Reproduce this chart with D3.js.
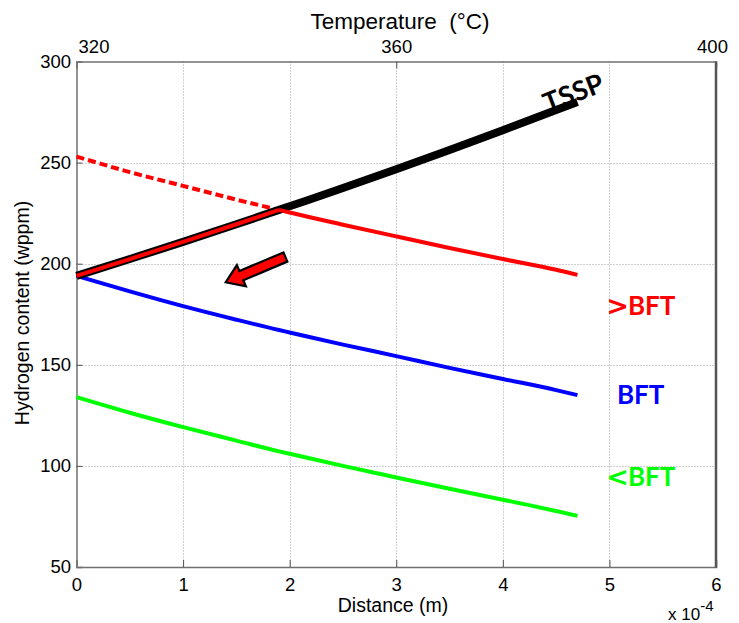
<!DOCTYPE html>
<html>
<head>
<meta charset="utf-8">
<script src="https://cdn.jsdelivr.net/npm/d3@7/dist/d3.min.js"></script>
<style>
  body { margin: 0; background: #fff; }
  svg { display: block; }
  .tick text { font-family: "Liberation Sans", Arial, sans-serif; font-size: 18.5px; fill: #000; }
</style>
</head>
<body>
<svg id="chart" width="739" height="623"></svg>
<script>
// ---- data (distance in units of 1e-4 m, hydrogen content in wppm) ----
const distance = [0, 0.5, 1, 1.5, 1.9, 2, 2.5, 3, 3.5, 4, 4.5, 4.7];
const tssp     = [194, 202.3, 210.8, 219.5, 226.6, 228.4, 237.4, 246.7, 256.2, 266, 276, 280];
const aboveBFT = [253, 245.3, 238.5, 231.7, 226.6, 225.3, 219.3, 213.5, 207.8, 202.3, 197, 194.5];
const bft      = [194, 186.3, 179, 172.3, 167.2, 166, 160, 154.3, 148.5, 143, 137.5, 135];
const belowBFT = [134, 126.3, 119.2, 112.5, 107.2, 106, 100, 94.3, 88.7, 83.3, 77.7, 75.3];
const crossing = 1.9;   // where >BFT meets TSSP

const xTicks = [0, 1, 2, 3, 4, 5, 6];
const yTicks = [50, 100, 150, 200, 250, 300];
const tTicks = [320, 360, 400];
const xGrid = [1, 2, 3, 4, 5];
const yGrid = [100, 150, 200, 250];

// arrow annotation (data coordinates): tail -> tip
const arrowTail = [1.96, 203.3];
const arrowTip  = [1.40, 190.8];

// curve labels (data coordinates)
const curveLabels = [
  { sym: ">", text: "BFT", x: 4.99, y: 174.6, color: "#ff0000", angle: 0 },
  { sym: "",  text: "BFT", x: 5.07, y: 130.5, color: "#0000ff", angle: 0 },
  { sym: "<", text: "BFT", x: 4.99, y: 90.0,  color: "#00ff00", angle: 0 },
  { sym: "",  text: "TSSP", x: 4.42, y: 274.5, color: "#000000", angle: -21 }
];

// ---- layout ----
const svg = d3.select("#chart");
const L = 76.5, R = 716, T = 61.5, B = 567;

const x = d3.scaleLinear().domain([0, 6]).range([L, R]);
const y = d3.scaleLinear().domain([50, 300]).range([B, T]);
const tx = d3.scaleLinear().domain([320, 400]).range([L, R]);

// grid
const grid = svg.append("g").attr("stroke", "#a0a0a0").attr("stroke-width", 1).attr("stroke-dasharray", "1,2");
grid.selectAll("line.v").data(xGrid).join("line").attr("class", "v")
  .attr("x1", d => Math.round(x(d)) + 0.5).attr("x2", d => Math.round(x(d)) + 0.5)
  .attr("y1", T).attr("y2", B);
grid.selectAll("line.h").data(yGrid).join("line").attr("class", "h")
  .attr("y1", d => Math.round(y(d)) + 0.5).attr("y2", d => Math.round(y(d)) + 0.5)
  .attr("x1", L).attr("x2", R);

// axes
const axB = svg.append("g").attr("transform", `translate(0,${B})`)
  .call(d3.axisBottom(x).tickValues(xTicks).tickSize(-7).tickPadding(11).tickFormat(d3.format("d")));
const axL = svg.append("g").attr("transform", `translate(${L},0)`)
  .call(d3.axisLeft(y).tickValues(yTicks).tickSize(-6).tickPadding(5.5).tickFormat(d3.format("d")));
const axT = svg.append("g").attr("transform", `translate(0,${T})`)
  .call(d3.axisTop(tx).tickValues(tTicks).tickSize(-7).tickPadding(9).tickFormat(d3.format("d")));
[axB, axL, axT].forEach(g => {
  g.select(".domain").attr("stroke", "#707070").attr("stroke-width", 1.5);
  g.selectAll(".tick line").attr("stroke", "#505050");
});
axB.selectAll(".tick").filter(d => d === 0 || d === 6).select("line").remove();
axL.selectAll(".tick").filter(d => d === 50 || d === 300).select("line").remove();
axT.selectAll(".tick").filter(d => d !== 360).select("line").remove();
axT.selectAll(".tick text").attr("dx", d => d === 320 ? 17 : (d === 400 ? -4 : 0));
// right border
svg.append("line").attr("x1", R).attr("x2", R).attr("y1", T).attr("y2", B + 0.75)
  .attr("stroke", "#555").attr("stroke-width", 2.5);

// axis titles
svg.append("text").attr("x", 400).attr("y", 29).attr("text-anchor", "middle")
  .style("font-family", "Liberation Sans, Arial, sans-serif").style("font-size", "22.5px")
  .style("white-space", "pre").text("Temperature  (°C)");
svg.append("text").attr("x", 393).attr("y", 612).attr("text-anchor", "middle")
  .style("font-family", "Liberation Sans, Arial, sans-serif").style("font-size", "19.5px")
  .text("Distance (m)");
svg.append("text").attr("transform", "translate(29,313) rotate(-90)").attr("text-anchor", "middle")
  .style("font-family", "Liberation Sans, Arial, sans-serif").style("font-size", "19.5px")
  .text("Hydrogen content (wppm)");
const exp = svg.append("text").attr("x", 668).attr("y", 620)
  .style("font-family", "Liberation Sans, Arial, sans-serif").style("font-size", "17px");
exp.append("tspan").text("x 10");
exp.append("tspan").attr("dy", -9).style("font-size", "15px").text("-4");

// lines
const pts = vals => distance.map((d, i) => [d, vals[i]]);
const line = d3.line().x(d => x(d[0])).y(d => y(d[1])).curve(d3.curveMonotoneX);
const plot = svg.append("g").attr("fill", "none");

plot.append("path").datum(pts(aboveBFT).filter(d => d[0] <= crossing))
  .attr("d", line).attr("stroke", "#ff0000").attr("stroke-width", 4).attr("stroke-dasharray", "8,4");
plot.append("path").datum(pts(bft)).attr("d", line).attr("stroke", "#0000ff").attr("stroke-width", 4);
plot.append("path").datum(pts(belowBFT)).attr("d", line).attr("stroke", "#00ff00").attr("stroke-width", 4);
plot.append("path").datum(pts(tssp)).attr("d", line).attr("stroke", "#000").attr("stroke-width", 8);
plot.append("path").datum(pts(tssp).filter(d => d[0] <= crossing))
  .attr("d", line).attr("stroke", "#ff0000").attr("stroke-width", 4);
plot.append("path").datum(pts(aboveBFT).filter(d => d[0] >= crossing))
  .attr("d", line).attr("stroke", "#ff0000").attr("stroke-width", 4);

// arrow
(function () {
  const x0 = x(arrowTail[0]), y0 = y(arrowTail[1]);
  const x1 = x(arrowTip[0]), y1 = y(arrowTip[1]);
  const dx = x1 - x0, dy = y1 - y0, len = Math.hypot(dx, dy);
  const ux = dx / len, uy = dy / len, nx = -uy, ny = ux;
  const sw = 5, hw = 11.5, hl = 17;
  const bx = x1 - ux * hl, by = y1 - uy * hl;
  const P = [
    [x0 + nx * sw, y0 + ny * sw], [bx + nx * sw, by + ny * sw], [bx + nx * hw, by + ny * hw],
    [x1, y1], [bx - nx * hw, by - ny * hw], [bx - nx * sw, by - ny * sw], [x0 - nx * sw, y0 - ny * sw]
  ];
  svg.append("path").attr("d", "M" + P.map(p => p.join(",")).join("L") + "Z")
    .attr("fill", "#ff0000").attr("stroke", "#000").attr("stroke-width", 2.2).attr("stroke-linejoin", "miter");
})();

// curve labels
const labs = svg.selectAll("text.lab").data(curveLabels).join("text").attr("class", "lab")
  .attr("transform", d => `translate(${x(d.x)},${y(d.y)}) rotate(${d.angle})`)
  .attr("fill", d => d.color)
  .style("font-family", "Lato, 'Open Sans', sans-serif").style("font-weight", "bold")
  .style("font-size", d => d.text === "TSSP" ? "27px" : "26px");
labs.filter(d => d.sym).append("tspan")
  .style("font-family", "'DejaVu Sans', sans-serif").style("font-size", "27px").attr("dx", -2)
  .text(d => d.sym);
labs.append("tspan").attr("dx", d => d.sym ? -1 : 0).text(d => d.text);
</script>
</body>
</html>
